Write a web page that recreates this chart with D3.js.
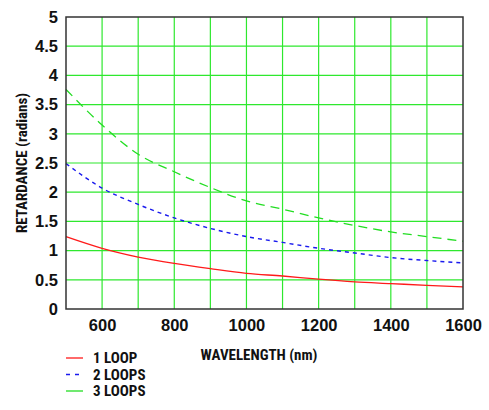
<!DOCTYPE html>
<html><head><meta charset="utf-8">
<script src="https://cdn.jsdelivr.net/npm/d3@7"></script>
<style>
body{margin:0;background:#fff;}
text{font-family:"Liberation Sans Narrow","Arial Narrow","Roboto Condensed","Liberation Sans",sans-serif;font-weight:bold;fill:#111;}
</style></head>
<body><svg id="c" width="489" height="410"></svg>
<script>
const wavelengths = [500,600,700,800,900,1000,1100,1200,1300,1400,1500,1600];
const loop1 = [1.24,1.04,0.89,0.78,0.69,0.61,0.565,0.51,0.465,0.435,0.405,0.38];
const loop2 = [2.49,2.07,1.79,1.56,1.38,1.24,1.14,1.04,0.96,0.88,0.83,0.79];
const loop3 = [3.76,3.15,2.65,2.35,2.08,1.85,1.71,1.56,1.43,1.32,1.24,1.16];
const seriesNames = ["1 LOOP","2 LOOPS","3 LOOPS"];
const xTicks = [600,800,1000,1200,1400,1600];
const yTicks = [0,0.5,1,1.5,2,2.5,3,3.5,4,4.5,5];
const xGrid = [600,700,800,900,1000,1100,1200,1300,1400,1500];

const svg = d3.select("#c");
const m = {l:66,t:17,r:463,b:309};
const x = d3.scaleLinear().domain([500,1600]).range([m.l,m.r]);
const y = d3.scaleLinear().domain([0,5]).range([m.b,m.t]);

const grid = svg.append("g").attr("stroke","#2ee82e").attr("stroke-width",1.2);
grid.selectAll(".v").data(xGrid).join("line")
  .attr("x1",d=>x(d)).attr("x2",d=>x(d)).attr("y1",m.t).attr("y2",m.b);
grid.selectAll(".h").data(yTicks.slice(1,-1)).join("line")
  .attr("y1",d=>y(d)).attr("y2",d=>y(d)).attr("x1",m.l).attr("x2",m.r);

const styles = [
  {color:"#ff1a1a",dash:null,w:1.3},
  {color:"#1a1aee",dash:"4,4",w:1.4},
  {color:"#22dd22",dash:"9,6",w:1.3}
];
const data = [loop1,loop2,loop3];
const line = d3.line().x((d,i)=>x(wavelengths[i])).y(d=>y(d)).curve(d3.curveMonotoneX);
data.forEach((s,i)=>{
  svg.append("path").datum(s).attr("d",line).attr("fill","none")
    .attr("stroke",styles[i].color).attr("stroke-width",styles[i].w)
    .attr("stroke-dasharray",styles[i].dash);
});

svg.append("rect").attr("x",m.l).attr("y",m.t).attr("width",m.r-m.l).attr("height",m.b-m.t)
  .attr("fill","none").attr("stroke","#333").attr("stroke-width",1.5);

const xAxis = svg.append("g").attr("transform",`translate(0,${m.b})`)
  .call(d3.axisBottom(x).tickValues(xTicks).tickSize(0).tickPadding(10).tickFormat(d3.format("d")));
const yAxis = svg.append("g").attr("transform",`translate(${m.l},0)`)
  .call(d3.axisLeft(y).tickValues(yTicks).tickSize(0).tickPadding(8).tickFormat(d3.format("")));
[xAxis,yAxis].forEach(a=>{a.select(".domain").remove();
  a.selectAll("text").style("font-size","16.5px").attr("fill","#111")
   .style("font-family",'"Liberation Sans Narrow","Arial Narrow",sans-serif').style("font-weight","bold");});

svg.append("text").attr("transform",`translate(27,163) rotate(-90)`).attr("text-anchor","middle")
  .style("font-size","15px").text("RETARDANCE (radians)");
svg.append("text").attr("x",259).attr("y",360).attr("text-anchor","middle")
  .style("font-size","15px").text("WAVELENGTH (nm)");

const lg = svg.append("g");
seriesNames.forEach((n,i)=>{
  const yy = 358 + i*16.5;
  lg.append("line").attr("x1",66).attr("x2",83).attr("y1",yy).attr("y2",yy)
    .attr("stroke",styles[i].color).attr("stroke-width",styles[i].w)
    .attr("stroke-dasharray",i==1?"4,5":null);
  lg.append("text").attr("x",93).attr("y",yy+5).style("font-size","15px").text(n);
});
</script></body></html>
